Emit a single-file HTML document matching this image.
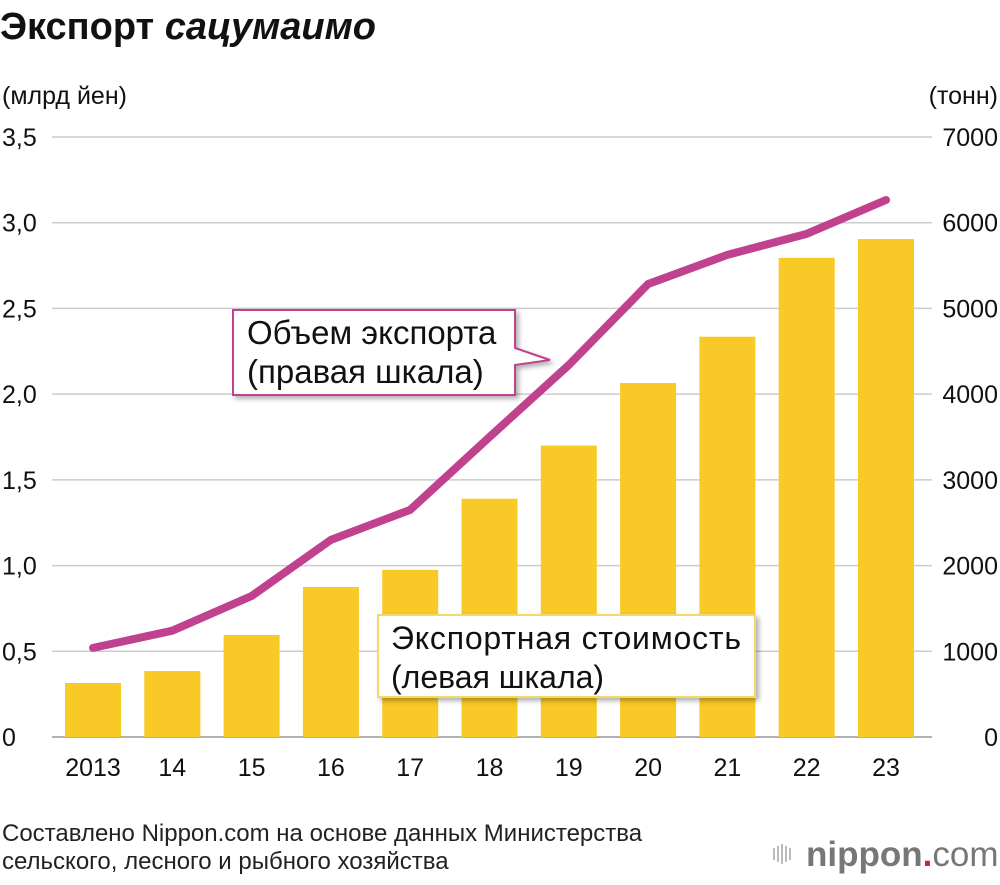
<!DOCTYPE html>
<html><head><meta charset="utf-8"><style>
body{margin:0;background:#fff;width:1000px;height:880px;overflow:hidden}
svg text{font-family:"Liberation Sans","DejaVu Sans",sans-serif}
</style></head><body>
<svg id="chart" width="1000" height="880" viewBox="0 0 1000 880">
<defs><filter id="sh" x="-10%" y="-10%" width="130%" height="140%"><feDropShadow dx="3" dy="3" stdDeviation="2.5" flood-color="#000" flood-opacity="0.3"/></filter></defs>
<text x="0" y="39" font-size="38" font-weight="bold" fill="#111">Экспорт <tspan font-style="italic">сацумаимо</tspan></text>
<text x="2" y="104" font-size="25" fill="#111">(млрд йен)</text>
<text x="998" y="104" font-size="25" fill="#111" text-anchor="end">(тонн)</text>
<g id="grid"></g><g id="bars"></g><g id="line"></g><g id="ticks"></g>
<g filter="url(#sh)">
<path d="M233,310 H515 V348 L550,360 L515,365 V395 H233 Z" fill="#fff" stroke="#c0428f" stroke-width="2"/>
</g>
<text x="247" y="344" font-size="33" fill="#111">Объем экспорта</text>
<text x="247" y="383" font-size="33" fill="#111">(правая шкала)</text>
<rect x="378" y="615" width="377" height="82" fill="#fff" stroke="#f4d86a" stroke-width="2" filter="url(#sh)"/>
<text x="391" y="649" font-size="32" fill="#111" textLength="350">Экспортная стоимость</text>
<text x="391" y="688" font-size="32" fill="#111">(левая шкала)</text>
<text x="2" y="841" font-size="24" fill="#222">Составлено Nippon.com на основе данных Министерства</text>
<text x="2" y="869" font-size="24" fill="#222">сельского, лесного и рыбного хозяйства</text>
<g>
<g fill="#bbb"><rect x="773" y="848" width="2" height="12"/><rect x="777" y="846" width="2" height="16"/><rect x="781" y="844" width="2" height="20"/><rect x="785" y="846" width="2" height="16"/><rect x="789" y="848" width="2" height="12"/></g>
<text x="806" y="866" font-size="35" fill="#777" font-weight="bold">nippon<tspan fill="#e02020">.</tspan><tspan font-weight="normal">com</tspan></text>
</g>
</svg>
<script>
const categories=["2013","14","15","16","17","18","19","20","21","22","23"];
const valueSeries=[0.315,0.385,0.595,0.875,0.975,1.39,1.70,2.065,2.335,2.795,2.905];
const volumeSeries=[1040,1240,1645,2300,2650,3500,4340,5285,5625,5870,6265];
const leftTicks=["0","0,5","1,0","1,5","2,0","2,5","3,0","3,5"];
const rightTicks=["0","1000","2000","3000","4000","5000","6000","7000"];
const NS="http://www.w3.org/2000/svg";
const y0=737,y1=137;
const yL=v=>y0-(v/3.5)*(y0-y1);
const yR=v=>y0-(v/7000)*(y0-y1);
const xC=i=>93+i*79.3;
function mk(tag,attrs,parent){const e=document.createElementNS(NS,tag);for(const k in attrs)e.setAttribute(k,attrs[k]);document.getElementById(parent).appendChild(e);return e;}
leftTicks.forEach((t,i)=>{
 const v=i*0.5,y=yL(v);
 const g=mk("line",{x1:52,x2:932,y1:y,y2:y,stroke:i==0?"#999":"#ccc","stroke-width":1.5},"grid");
 
 
 const a=mk("text",{x:2,y:y+9,"font-size":25,fill:"#111"},"ticks");a.textContent=t;
 
 
 const b=mk("text",{x:998,y:yR(i*1000)+9,"font-size":25,fill:"#111","text-anchor":"end"},"ticks");b.textContent=rightTicks[i];
 
 
});
categories.forEach((c,i)=>{
 const r=mk("rect",{x:xC(i)-28,y:yL(valueSeries[i]),width:56,height:y0-yL(valueSeries[i]),fill:"#f8c927"},"bars");
 
 
 const t=mk("text",{x:xC(i),y:776,"font-size":25,fill:"#111","text-anchor":"middle"},"ticks");t.textContent=c;
 
 
});
const pts=volumeSeries.map((v,i)=>xC(i)+","+yR(v)).join(" ");
const pl=mk("polyline",{points:pts,fill:"none",stroke:"#c0428f","stroke-width":8,"stroke-linecap":"round","stroke-linejoin":"round"},"line");


</script>
</body></html>
